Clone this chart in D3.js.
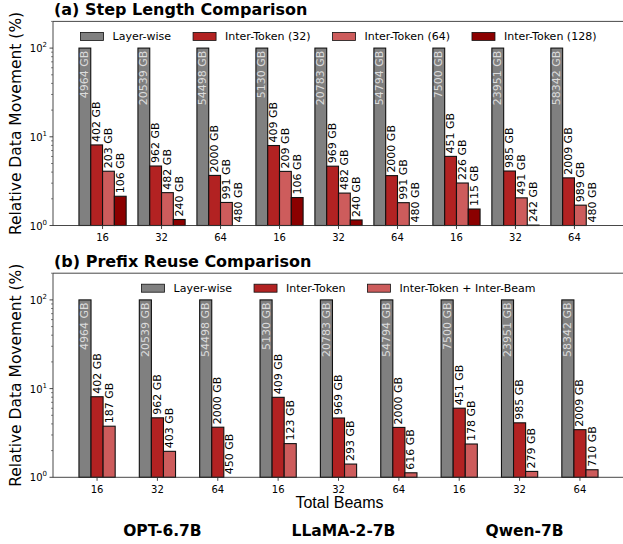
<html>
<head>
<script src="https://d3js.org/d3.v7.min.js"></script>
</head>
<body>
<div id="graph"></div>
<script>
    // data (GB moved per configuration)
    var models = ["OPT-6.7B", "LLaMA-2-7B", "Qwen-7B"];
    var beams = ["16", "32", "64", "16", "32", "64", "16", "32", "64"];
    var layerWise = [4964, 20539, 54498, 5130, 20783, 54794, 7500, 23951, 58342];
    var interToken32 = [402, 962, 2000, 409, 969, 2000, 451, 985, 2009];
    var interToken64 = [203, 482, 991, 209, 482, 991, 226, 491, 989];
    var interToken128 = [106, 240, 480, 106, 240, 480, 115, 242, 480];
    var interToken = [402, 962, 2000, 409, 969, 2000, 451, 985, 2009];
    var interTokenBeam = [187, 403, 450, 123, 293, 616, 178, 279, 710];
    var yTicks = [1, 10, 100];
    var yExp = ["0", "1", "2"];

    var W = 623, H = 544;
    var left = 53, right = 624;
    var barW = 0.2;

    var svg = d3.select("#graph").append("svg")
        .attr("width", W).attr("height", H)
        .style("font-family", "'DejaVu Sans', sans-serif");

    function panel(opts) {
        var g = svg.append("g");
        var n = opts.series.length;
        var lo = -n * barW / 2, hi = beams.length - 1 + n * barW / 2;
        var pad = (hi - lo) * 0.05;
        var x = d3.scaleLinear().domain([lo - pad, hi + pad]).range([left, right]);
        var y = d3.scaleLog().domain([1, 200]).range([opts.bottom, opts.top]);
        var bw = x(barW) - x(0);

        // title
        g.append("text")
            .attr("x", left + 1).attr("y", opts.top - 6.5)
            .attr("font-size", 16).attr("font-weight", "bold")
            .text(opts.title);

        // bars + labels
        opts.series.forEach(function(s, j) {
            var off = (j - (n - 1) / 2) * barW;
            var rows = s.values.map(function(v, i) {
                return {i: i, gb: v, pct: v / layerWise[i] * 100};
            });
            g.selectAll(null)
                .data(rows.filter(function(d) { return d.pct > 1; }))
                .enter().append("rect")
                .attr("x", function(d) { return x(d.i + off) - bw / 2; })
                .attr("y", function(d) { return y(d.pct); })
                .attr("width", bw)
                .attr("height", function(d) { return y(1) - y(d.pct); })
                .attr("fill", s.color)
                .attr("stroke", "#111").attr("stroke-width", 1.1);

            g.selectAll(null)
                .data(rows)
                .enter().append("text")
                .attr("transform", function(d) {
                    var cx = x(d.i + off);
                    var cy = j == 0 ? y(d.pct) + 2.5 : y(Math.max(d.pct, 1)) - 3;
                    return "translate(" + cx + "," + cy + ") rotate(-90)";
                })
                .attr("text-anchor", j == 0 ? "end" : "start")
                .attr("dominant-baseline", "central")
                .attr("font-size", 11)
                .attr("fill", j == 0 ? "#dcdcdc" : "#000")
                .text(function(d) { return d.gb + " GB"; });
        });

        // spines
        g.append("path")
            .attr("d", "M" + left + "," + opts.top + "H" + right + "V" + opts.bottom + "H" + left + "Z")
            .attr("fill", "none").attr("stroke", "#333").attr("stroke-width", 0.9);

        // y ticks (log)
        var minor = [];
        [1, 10, 100].forEach(function(dec) {
            for (var k = 2; k <= 9; k++) if (dec * k <= 200) minor.push(dec * k);
        });
        g.selectAll(null).data(minor).enter().append("line")
            .attr("x1", left - 2).attr("x2", left)
            .attr("y1", function(d) { return y(d); }).attr("y2", function(d) { return y(d); })
            .attr("stroke", "#333").attr("stroke-width", 0.6);
        g.selectAll(null).data(yTicks).enter().append("line")
            .attr("x1", left - 3.5).attr("x2", left)
            .attr("y1", function(d) { return y(d); }).attr("y2", function(d) { return y(d); })
            .attr("stroke", "#333").attr("stroke-width", 0.9);
        var yl = g.selectAll(null).data(yTicks).enter().append("text")
            .attr("x", left - 6).attr("y", function(d) { return y(d) + 4; })
            .attr("text-anchor", "end").attr("font-size", 10);
        yl.append("tspan").text("10");
        yl.append("tspan").attr("dy", -5).attr("font-size", 7)
            .text(function(d, i) { return yExp[i]; });

        // x ticks
        g.selectAll(null).data(beams).enter().append("line")
            .attr("x1", function(d, i) { return x(i); }).attr("x2", function(d, i) { return x(i); })
            .attr("y1", opts.bottom).attr("y2", opts.bottom + 3.5)
            .attr("stroke", "#333").attr("stroke-width", 0.9);
        g.selectAll(null).data(beams).enter().append("text")
            .attr("x", function(d, i) { return x(i); }).attr("y", opts.bottom + 15.5)
            .attr("text-anchor", "middle").attr("font-size", 10)
            .text(function(d) { return d; });

        // y label
        g.append("text")
            .attr("transform", "translate(21," + (opts.top + opts.bottom) / 2 + ") rotate(-90)")
            .attr("text-anchor", "middle").attr("font-size", 15.5)
            .text("Relative Data Movement (%)");

        // legend, centered on the axes
        var leg = g.append("g");
        var cx = 0;
        opts.series.forEach(function(s) {
            var item = leg.append("g").attr("transform", "translate(" + cx + ",0)");
            item.append("rect").attr("x", 0).attr("y", -4).attr("width", 23).attr("height", 8)
                .attr("fill", s.color).attr("stroke", "#111").attr("stroke-width", 0.8);
            var t = item.append("text").attr("x", 32).attr("y", 4)
                .attr("font-size", 11).text(s.name);
            cx += 32 + t.node().getComputedTextLength() + 22;
        });
        var legW = cx - 22;
        leg.attr("transform", "translate(" + ((left + right) / 2 - legW / 2) + "," + (opts.top + 15) + ")");

        return x;
    }

    panel({
        title: "(a) Step Length Comparison",
        top: 21.4, bottom: 225.5,
        series: [
            {name: "Layer-wise", values: layerWise, color: "#808080"},
            {name: "Inter-Token (32)", values: interToken32, color: "#b22222"},
            {name: "Inter-Token (64)", values: interToken64, color: "#cd5c5c"},
            {name: "Inter-Token (128)", values: interToken128, color: "#8b0000"}
        ]
    });

    var xb = panel({
        title: "(b) Prefix Reuse Comparison",
        top: 273.2, bottom: 477.3,
        series: [
            {name: "Layer-wise", values: layerWise, color: "#808080"},
            {name: "Inter-Token", values: interToken, color: "#b22222"},
            {name: "Inter-Token + Inter-Beam", values: interTokenBeam, color: "#cd5c5c"}
        ]
    });

    svg.append("text")
        .attr("x", (left + right) / 2 + 1).attr("y", 508)
        .attr("text-anchor", "middle")
        .attr("font-family", "'Liberation Sans', Arial, sans-serif")
        .attr("font-size", 16)
        .text("Total Beams");

    svg.selectAll(null).data(models).enter().append("text")
        .attr("x", function(d, i) { return xb(i * 3 + 1) + 5; })
        .attr("y", 536)
        .attr("text-anchor", "middle")
        .attr("font-size", 15.5).attr("font-weight", "bold")
        .text(function(d) { return d; });
</script>
</body>
<style>
    body { margin: 0; background: #fff; }
</style>
</html>
